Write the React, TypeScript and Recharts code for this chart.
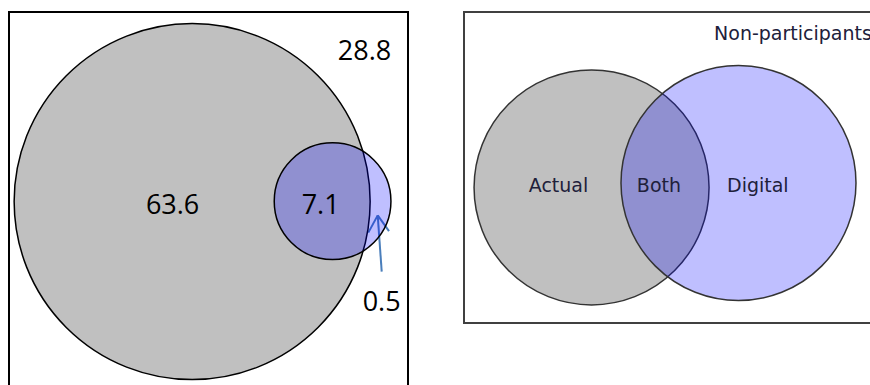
import { ScatterChart, Scatter, XAxis, YAxis, ZAxis, ReferenceArea, ReferenceLine } from "recharts";

// shares of the population (%), left diagram
const shareRegions = ["Actual only", "Both", "Digital only", "Non-participants"];
const shareValues = [63.6, 7.1, 0.5, 28.8];

// schematic on the right
const setNames = ["Actual", "Digital"];
const schemeSizes = [50, 50];
const schemeLabels = ["Actual", "Both", "Digital", "Non-participants"];

// layout, in axis units (0-100 across each framed box)
const leftCentres = [
  [45.9, 49.5],
  [81.1, 49.4],
];
const leftLabelPos = [
  [41.0, 50.1],
  [78.1, 50.1],
  [93.4, 75.2],
  [89.1, 9.9],
];
const arrowShaft = [
  [93.41, 67.8],
  [92.41, 53.1],
];
const arrowHead = [
  [90.05, 57.6],
  [92.41, 53.1],
  [95.24, 57.2],
];
const rightCentres = [
  [30.3, 56.4],
  [65.2, 55.0],
];
const rightLabelPos = [
  [22.45, 55.6],
  [46.3, 55.6],
  [69.8, 55.6],
  [59.4, 6.75],
];

const setTotals = [shareValues[0] + shareValues[1], shareValues[1] + shareValues[2]];

const leftCircles = setNames.map((name, i) => ({
  name,
  x: leftCentres[i][0],
  y: leftCentres[i][1],
  z: setTotals[i],
}));
const rightCircles = setNames.map((name, i) => ({
  name,
  x: rightCentres[i][0],
  y: rightCentres[i][1],
  z: schemeSizes[i],
}));
const leftLabels = shareRegions.map((name, i) => ({
  name,
  x: leftLabelPos[i][0],
  y: leftLabelPos[i][1],
  text: shareValues[i].toFixed(1),
  anchor: "middle",
}));
const rightLabels = schemeLabels.map((name, i) => ({
  name,
  x: rightLabelPos[i][0],
  y: rightLabelPos[i][1],
  text: name,
  anchor: name === "Non-participants" ? "start" : "middle",
}));

const circle = (fill: string, opacity: number, stroke: string) => (p: any) =>
  <circle cx={p.cx} cy={p.cy} r={p.width / 2} fill={fill} fillOpacity={opacity} stroke={stroke} strokeWidth={1.5} />;

const label = (size: number, color: string, family: string) => (p: any) =>
  <text
    x={p.cx}
    y={p.cy}
    textAnchor={p.payload.anchor}
    dominantBaseline="central"
    fontSize={size}
    fill={color}
    fontFamily={family}
  >
    {p.payload.text}
  </text>;

const arrowStyle = { stroke: "#4a7ebb", strokeWidth: 2 };

export default function App() {
  return (
    <div style={{ position: "absolute", left: 0, top: 0, width: 870, height: 385, overflow: "hidden", background: "#fff" }}>
      <div style={{ position: "absolute", left: 0, top: 0 }}>
        <ScatterChart width={420} height={400} margin={{ top: 12, left: 9, right: 12, bottom: 5 }}>
          <XAxis type="number" dataKey="x" domain={[0, 100]} hide allowDataOverflow />
          <YAxis type="number" dataKey="y" domain={[0, 100]} reversed hide allowDataOverflow />
          <ZAxis type="number" dataKey="z" domain={[0, 100]} range={[0, 140789]} />
          <ReferenceArea x1={0} x2={100} y1={0} y2={100} fill="none" stroke="#000" strokeWidth={2} ifOverflow="visible" />
          <Scatter data={[leftCircles[0]]} shape={circle("#c0c0c0", 1, "#000")} isAnimationActive={false} />
          <Scatter data={[leftCircles[1]]} shape={circle("#0000ff", 0.25, "#000")} isAnimationActive={false} />
          <ReferenceLine
            segment={[{ x: arrowShaft[0][0], y: arrowShaft[0][1] }, { x: arrowShaft[1][0], y: arrowShaft[1][1] }]}
            {...arrowStyle}
            ifOverflow="visible"
          />
          <ReferenceLine
            segment={[{ x: arrowHead[0][0], y: arrowHead[0][1] }, { x: arrowHead[1][0], y: arrowHead[1][1] }]}
            {...arrowStyle}
            ifOverflow="visible"
          />
          <ReferenceLine
            segment={[{ x: arrowHead[2][0], y: arrowHead[2][1] }, { x: arrowHead[1][0], y: arrowHead[1][1] }]}
            {...arrowStyle}
            ifOverflow="visible"
          />
          <Scatter data={leftLabels} shape={label(27, "#000", "'Open Sans', sans-serif")} isAnimationActive={false} />
        </ScatterChart>
      </div>
      <div style={{ position: "absolute", left: 455, top: 0 }}>
        <ScatterChart width={440} height={335} margin={{ top: 12, left: 9, right: 10, bottom: 12 }}>
          <XAxis type="number" dataKey="x" domain={[0, 100]} hide allowDataOverflow />
          <YAxis type="number" dataKey="y" domain={[0, 100]} reversed hide allowDataOverflow />
          <ZAxis type="number" dataKey="z" domain={[0, 100]} range={[0, 86748]} />
          <ReferenceArea x1={0} x2={100} y1={0} y2={100} fill="none" stroke="#404040" strokeWidth={2} ifOverflow="visible" />
          <Scatter data={[rightCircles[0]]} shape={circle("#c0c0c0", 1, "#333")} isAnimationActive={false} />
          <Scatter data={[rightCircles[1]]} shape={circle("#0000ff", 0.25, "#333")} isAnimationActive={false} />
          <Scatter data={rightLabels} shape={label(19, "#20203a", "'DejaVu Sans', sans-serif")} isAnimationActive={false} />
        </ScatterChart>
      </div>
    </div>
  );
}
